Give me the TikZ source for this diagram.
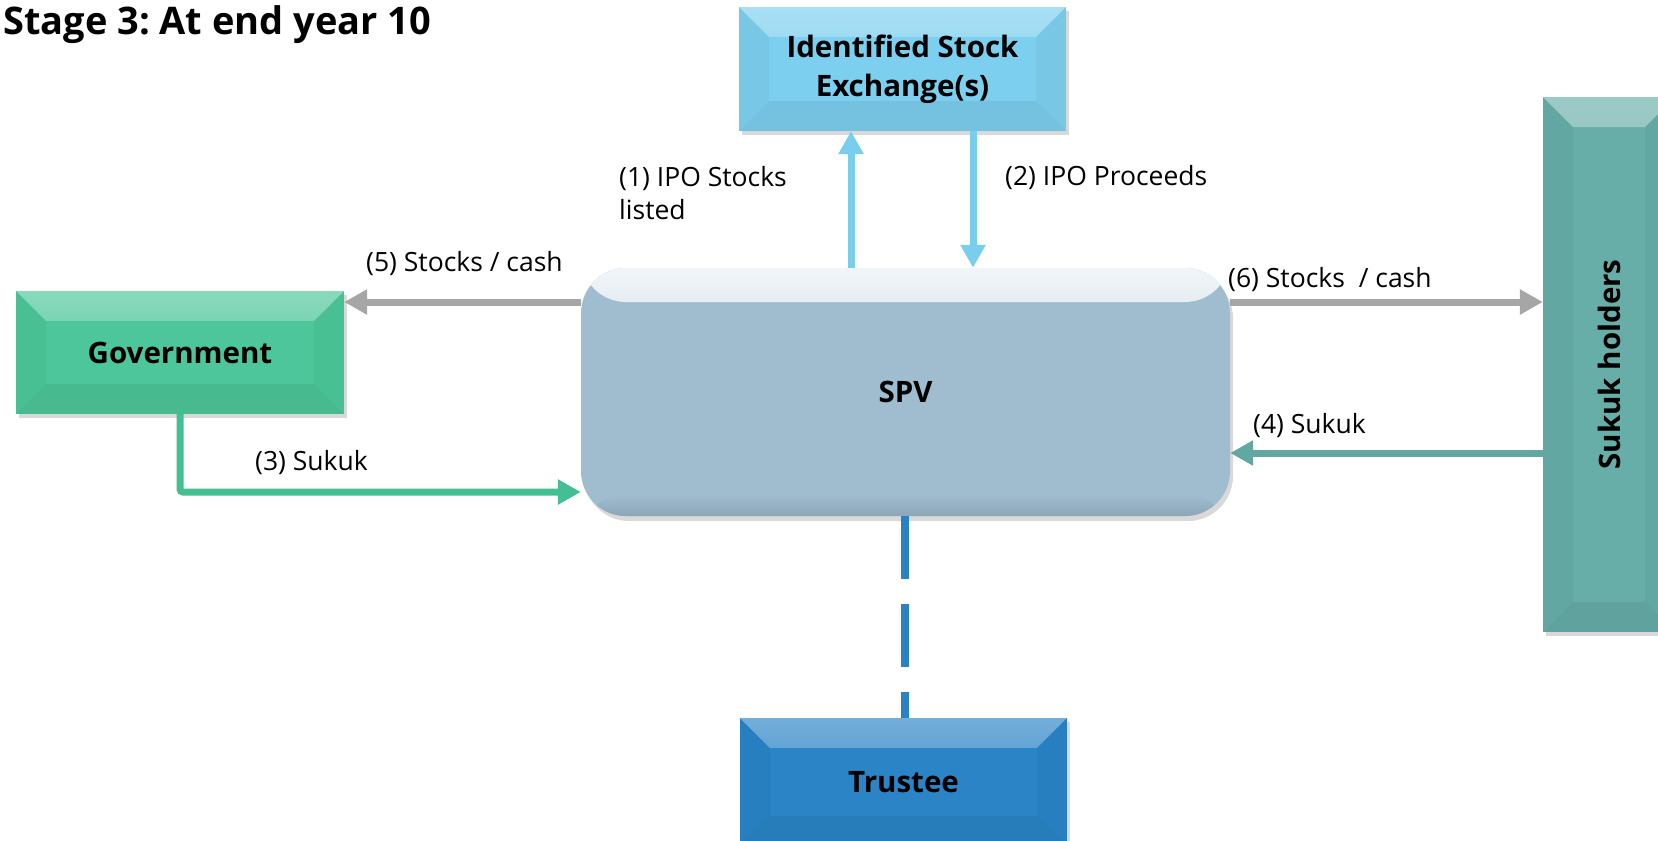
\documentclass[tikz,border=0pt]{standalone}
\usepackage{fontspec}
\usepackage{graphicx}
\setmainfont{Open Sans}
\frenchspacing
\usetikzlibrary{arrows.meta,shadows,fadings,calc}
\definecolor{sec}{HTML}{7CCFEE}
\definecolor{govc}{HTML}{4CC69A}
\definecolor{shc}{HTML}{67AEA8}
\definecolor{trc}{HTML}{2A84C6}
\definecolor{spvc}{HTML}{A0BDD0}
\definecolor{grayc}{HTML}{A6A6A6}
\definecolor{lbc}{HTML}{79CDED}
\definecolor{grc}{HTML}{43BF93}
\definecolor{tlc}{HTML}{62A8A2}
\definecolor{dashc}{HTML}{2A82C6}
\def\bv{30pt}
\tikzset{
  lbl/.style={font=\fontsize{26.5}{33}\selectfont, inner sep=0pt, text=black},
  bevelbox/.style={draw=none, inner sep=0pt, align=center,
    font=\fontsize{29.5}{39}\selectfont\bfseries,
    drop shadow={shadow xshift=3pt, shadow yshift=-4pt, opacity=0.25, fill=black!60},
    path picture={
      \fill[white,opacity=.35,path fading=south] (path picture bounding box.north west) -- (path picture bounding box.north east) -- ([shift={(-\bv,-\bv)}]path picture bounding box.north east) -- ([shift={(\bv,-\bv)}]path picture bounding box.north west) -- cycle;
      \fill[black,opacity=.035] (path picture bounding box.north west) -- ([shift={(\bv,-\bv)}]path picture bounding box.north west) -- ([shift={(\bv,\bv)}]path picture bounding box.south west) -- (path picture bounding box.south west) -- cycle;
      \fill[black,opacity=.035] (path picture bounding box.north east) -- ([shift={(-\bv,-\bv)}]path picture bounding box.north east) -- ([shift={(-\bv,\bv)}]path picture bounding box.south east) -- (path picture bounding box.south east) -- cycle;
      \fill[black,opacity=.06] (path picture bounding box.south west) -- (path picture bounding box.south east) -- ([shift={(-\bv,\bv)}]path picture bounding box.south east) -- ([shift={(\bv,\bv)}]path picture bounding box.south west) -- cycle;
    }},
  spvbox/.style={draw=none, inner sep=0pt, fill=spvc, rounded corners=45pt,
    font=\fontsize{29.5}{39}\selectfont\bfseries,
    drop shadow={shadow xshift=3pt, shadow yshift=-5pt, opacity=0.25, fill=black!60},
    path picture={
      \shade[top color=white!85!spvc, bottom color=spvc] (path picture bounding box.north west) rectangle ([yshift=-34pt]path picture bounding box.north east);
      \shade[top color=spvc, bottom color=spvc!88!black] ([yshift=22pt]path picture bounding box.south west) rectangle (path picture bounding box.south east);
    }},
  arr/.style={line width=7pt, -{Triangle[length=23pt,width=24pt]}}
}
\begin{document}
\begin{tikzpicture}[x=1pt,y=-1pt]
\useasboundingbox (0,0) rectangle (1658,841);

% title
\node[anchor=base west, inner sep=0pt, font=\fontsize{38}{42}\selectfont\bfseries] (title) at (3,34) {Stage 3: At end year 10};

% helper coordinates
\coordinate (ax1) at (851,0);
\coordinate (ax2) at (973,0);
\coordinate (axt) at (905,0);
\coordinate (ay5) at (0,302);
\coordinate (ay4) at (0,453);
\coordinate (ay3) at (0,492);

% boxes
\node[spvbox, minimum width=649pt, minimum height=248pt] (spv) at (905.5,392) {SPV};
\node[bevelbox, fill=sec, minimum width=327pt, minimum height=124pt] (se) at (902.5,69) {Identified Stock\\Exchange(s)};
\node[bevelbox, fill=govc, minimum width=328pt, minimum height=123pt] (gov) at (180,352.5) {Government};
\node[bevelbox, fill=shc, minimum width=132pt, minimum height=535pt] (sh) at (1609,364.5) {\rotatebox{90}{Sukuk holders}};
\node[bevelbox, fill=trc, minimum width=327pt, minimum height=128pt] (tr) at (903.5,782) {Trustee};

% connectors
\draw[arr, lbc] (ax1 |- spv.north) -- (ax1 |- se.south);
\draw[arr, lbc] (ax2 |- se.south) -- (ax2 |- spv.north);
\draw[arr, grayc] (spv.west |- ay5) -- (gov.east |- ay5);
\draw[arr, grayc] (spv.east |- ay5) -- (sh.west |- ay5);
\draw[arr, tlc] (sh.west |- ay4) -- (spv.east |- ay4);
\draw[arr, grc, rounded corners=3pt] (gov.south) -- (gov.south |- ay3) -- (spv.west |- ay3);
\draw[line width=8pt, dashc, dash pattern=on 63pt off 25pt] (axt |- spv.south) -- (axt |- tr.north);

% labels
\node[lbl, anchor=north west, align=left] (l1) at (619,166) {(1) IPO Stocks\\listed};
\node[lbl, anchor=base west] (l2) at (1005,185) {(2) IPO Proceeds};
\node[lbl, anchor=base west] (l5) at (366,271) {(5) Stocks / cash};
\node[lbl, anchor=base west] (l6) at (1228,287) {(6) Stocks\ \ / cash};
\node[lbl, anchor=base west] (l3) at (255,470) {(3) Sukuk};
\node[lbl, anchor=base west] (l4) at (1253,433) {(4) Sukuk};
\end{tikzpicture}
\end{document}
